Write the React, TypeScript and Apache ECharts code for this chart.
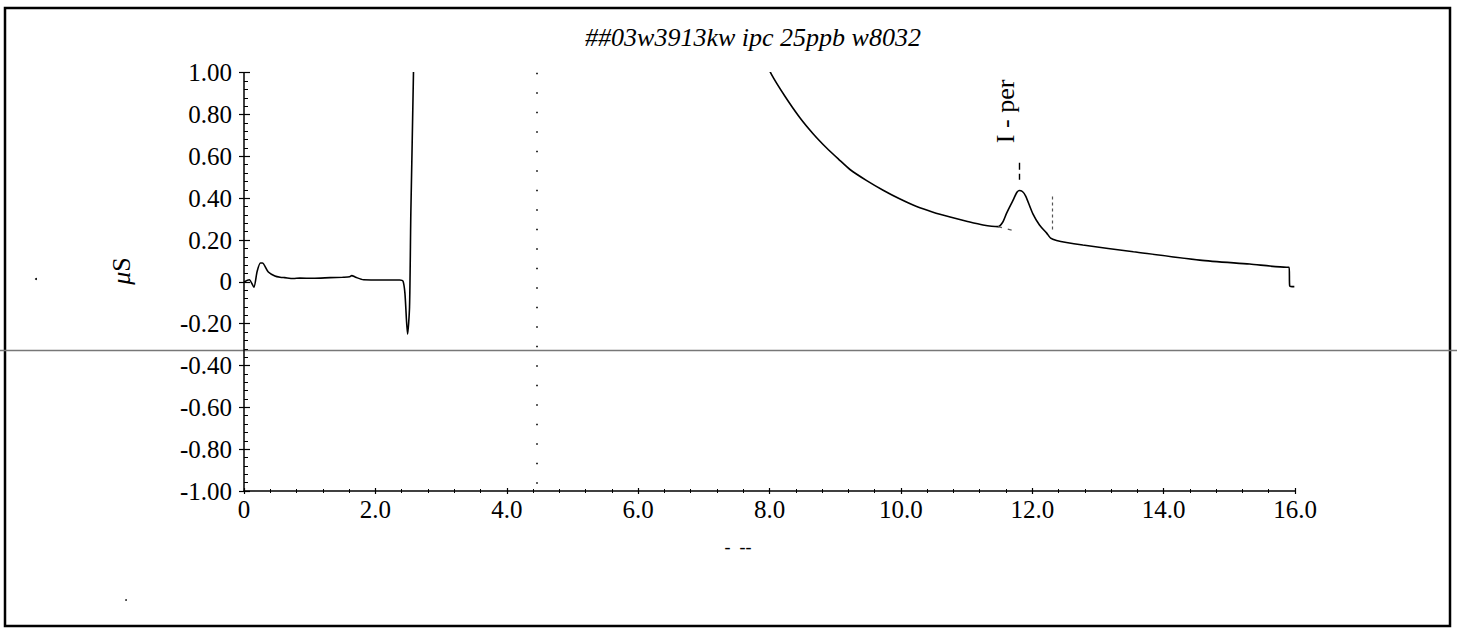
import React, { useEffect, useRef } from "react";
import * as echarts from "echarts";

const titleText = "##03w3913kw ipc 25ppb w8032";
const xName = "-  --";
const peakName = "I - per";

// retention time (min) and conductivity (µS)
const traceX = [
  0, 0.08, 0.15, 0.2, 0.25, 0.28, 0.37, 0.47, 0.55, 0.62, 0.75, 0.85, 1.05, 1.31, 1.5, 1.61,
  1.64, 1.7, 1.82, 2.12, 2.37, 2.42, 2.45, 2.49, 2.52, 2.54, 2.58, 2.62, 3.0, 4.0, 5.0, 6.0,
  7.0, 7.6, 8.03, 8.23, 8.46, 8.67, 8.87, 9.05, 9.23, 9.48, 9.73, 9.98, 10.24, 10.49, 10.75,
  11.0, 11.25, 11.48, 11.55, 11.61, 11.71, 11.76, 11.8, 11.85, 11.9, 12.01, 12.11, 12.22,
  12.28, 12.37, 12.52, 12.77, 13.54, 14.55, 15.31, 15.87, 15.91, 15.92, 15.99,
];
const traceY = [
  0.0, 0.01, -0.025, 0.05, 0.09, 0.09, 0.047, 0.028, 0.022, 0.02, 0.016, 0.018, 0.017, 0.02,
  0.022, 0.024, 0.03, 0.022, 0.01, 0.009, 0.009, 0.004, -0.055, -0.25, -0.12, 0.33, 1.0, 2.0,
  6.0, 5.0, 3.5, 2.4, 1.6, 1.26, 0.992, 0.89, 0.786, 0.706, 0.64, 0.587, 0.536, 0.484, 0.438,
  0.397, 0.36, 0.333, 0.31, 0.29, 0.272, 0.264, 0.285, 0.329, 0.392, 0.425, 0.437, 0.432,
  0.41, 0.325, 0.272, 0.233, 0.209, 0.198, 0.188, 0.176, 0.144, 0.104, 0.085, 0.07, 0.07,
  -0.02, -0.023,
];

const injectionMarkX = 4.46;
const peakApexX = 11.8;
const peakEndX = 12.3;
const peakBaseline = [
  [11.48, 0.264],
  [11.77, 0.24],
];

const yTickLabel = (v: number) => (Math.abs(v) < 1e-9 ? "0" : v.toFixed(2));
const xTickLabel = (v: number) => (Math.abs(v) < 1e-9 ? "0" : v.toFixed(1));

const FONT = "Liberation Serif";

export default function App() {
  const ref = useRef<HTMLDivElement>(null);

  useEffect(() => {
    if (!ref.current) return;
    const chart = echarts.init(ref.current, undefined, { renderer: "svg" });
    const data = traceX.map((x, i) => [x, traceY[i]]);

    const gridPos = { left: 244, right: 162, top: 72.7, bottom: 140 };

    const axisText = {
      show: true,
      color: "#000",
      fontFamily: FONT,
      fontSize: 25,
    };

    chart.setOption({
      animation: false,
      backgroundColor: "#fff",
      textStyle: { fontFamily: FONT, fontSize: 25, color: "#000" },
      grid: { ...gridPos, containLabel: false },
      xAxis: [
        {
          type: "value",
          min: 0,
          max: 16,
          interval: 2,
          position: "bottom",
          splitLine: { show: false },
          axisLine: { show: true, onZero: false, lineStyle: { color: "#000", width: 1.5 } },
          axisTick: { show: true, length: 3, lineStyle: { color: "#000", width: 1.2 } },
          minorTick: { show: true, splitNumber: 5, length: 2, lineStyle: { color: "#000" } },
          axisLabel: { ...axisText, margin: 6, formatter: xTickLabel },
        },
        {
          type: "value",
          min: 0,
          max: 16,
          interval: 2,
          position: "bottom",
          splitLine: { show: false },
          axisLine: { show: false, onZero: false },
          axisLabel: { show: false },
          axisTick: { show: true, inside: true, length: 3, lineStyle: { color: "#000", width: 1.2 } },
          minorTick: { show: true, splitNumber: 5, length: 2, lineStyle: { color: "#000" } },
        },
      ],
      yAxis: [
        {
          type: "value",
          min: -1,
          max: 1,
          interval: 0.2,
          position: "left",
          splitLine: { show: false },
          axisLine: { show: true, onZero: false, lineStyle: { color: "#000", width: 1.5 } },
          axisTick: { show: true, length: 5, lineStyle: { color: "#000", width: 1.2 } },
          minorTick: { show: false },
          axisLabel: { ...axisText, margin: 12, formatter: yTickLabel },
        },
        {
          type: "value",
          min: -1,
          max: 1,
          interval: 0.2,
          position: "left",
          splitLine: { show: false },
          axisLine: { show: false, onZero: false },
          axisLabel: { show: false },
          axisTick: { show: true, inside: true, length: 6, lineStyle: { color: "#000", width: 1.2 } },
          minorTick: { show: true, splitNumber: 5, length: 4, lineStyle: { color: "#000" } },
        },
      ],
      series: [
        {
          type: "line",
          xAxisIndex: 0,
          yAxisIndex: 0,
          data,
          showSymbol: false,
          symbol: "none",
          smooth: 0.25,
          clip: true,
          lineStyle: { color: "#000", width: 1.6 },
          markLine: {
            silent: true,
            symbol: ["none", "none"],
            label: { show: false },
            data: [
              [
                { coord: [injectionMarkX, 1], lineStyle: { color: "#000", width: 1.6, type: [1.5, 18] } },
                { coord: [injectionMarkX, -1] },
              ],
              [
                { coord: [peakApexX, 0.57], lineStyle: { color: "#000", width: 1.4, type: [7, 4] } },
                { coord: [peakApexX, 0.488] },
              ],
              [
                { coord: [peakEndX, 0.408], lineStyle: { color: "#555", width: 1.2, type: [3, 3] } },
                { coord: [peakEndX, 0.248] },
              ],
              [
                { coord: peakBaseline[0], lineStyle: { color: "#555", width: 1.2, type: [4, 6] } },
                { coord: peakBaseline[1] },
              ],
            ],
          },
          markPoint: {
            silent: true,
            symbol: "circle",
            symbolSize: 1,
            itemStyle: { color: "rgba(0,0,0,0)" },
            data: [{ coord: [11.6, 0.815], value: peakName }],
            label: {
              show: true,
              position: "inside",
              rotate: 90,
              formatter: peakName,
              color: "#000",
              fontFamily: FONT,
              fontSize: 26,
            },
          },
        },
      ],
      graphic: [
        {
          type: "rect",
          shape: { x: 5, y: 8, width: 1445, height: 618 },
          style: { fill: "none", stroke: "#000", lineWidth: 2.5 },
          silent: true,
        },
        {
          type: "line",
          shape: { x1: 0, y1: 350.5, x2: 1457, y2: 350.5 },
          style: { stroke: "#777", lineWidth: 1.5 },
          silent: true,
        },
        {
          type: "text",
          x: 753,
          y: 37,
          style: {
            text: titleText,
            fontFamily: FONT,
            fontStyle: "italic",
            fontSize: 26,
            fill: "#000",
            textAlign: "center",
            textVerticalAlign: "middle",
          },
        },
        {
          type: "text",
          x: 121,
          y: 271,
          rotation: Math.PI / 2,
          style: {
            text: "{m|μ}{s|S}",
            rich: {
              m: { fontFamily: FONT, fontStyle: "italic", fontSize: 26, fill: "#000" },
              s: { fontFamily: FONT, fontSize: 26, fill: "#000" },
            },
            textAlign: "center",
            textVerticalAlign: "middle",
          },
        },
        {
          type: "text",
          x: 738,
          y: 547,
          style: {
            text: xName,
            fontFamily: FONT,
            fontSize: 18,
            fill: "#000",
            textAlign: "center",
            textVerticalAlign: "middle",
          },
        },
        { type: "circle", shape: { cx: 36, cy: 279, r: 1 }, style: { fill: "#000" } },
        { type: "circle", shape: { cx: 126, cy: 600, r: 0.8 }, style: { fill: "#000" } },
      ],
    });

    return () => chart.dispose();
  }, []);

  return (
    <div
      ref={ref}
      style={{ position: "fixed", left: 0, top: 0, width: 1457, height: 631, background: "#fff" }}
    />
  );
}
